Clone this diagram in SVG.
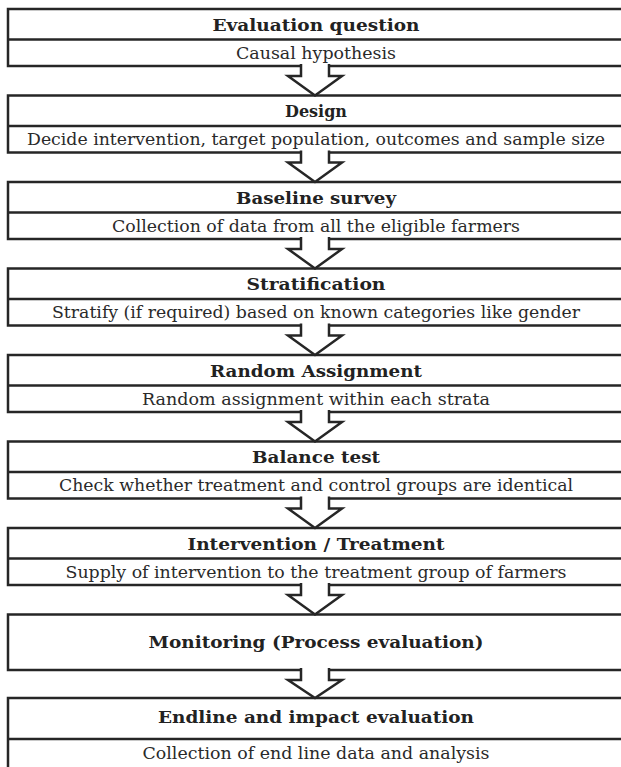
<svg xmlns="http://www.w3.org/2000/svg" width="621" height="767" viewBox="0 0 621 767">
<style>
.box{fill:#fff;stroke:#262626;stroke-width:2.5}
.div{stroke:#262626;stroke-width:2.5}
.h{font-family:"DejaVu Serif","Liberation Serif",serif;font-weight:bold;font-size:17px;fill:#222;text-anchor:middle}
.s{font-family:"DejaVu Serif","Liberation Serif",serif;font-size:17px;fill:#2a2a2a;text-anchor:middle}
.arr{fill:#fff;stroke:#262626;stroke-width:2.5;stroke-linejoin:miter}
</style>
<g id="n1">
<rect class="box" x="8" y="9" width="620" height="57"/>
<line class="div" x1="8" y1="39.5" x2="628" y2="39.5"/>
<text class="h" x="316" y="30.5" textLength="207" lengthAdjust="spacingAndGlyphs">Evaluation question</text>
<text class="s" x="316" y="58.5" textLength="160" lengthAdjust="spacingAndGlyphs">Causal hypothesis</text>
</g>
<g id="n2">
<rect class="box" x="8" y="95.5" width="620" height="57"/>
<line class="div" x1="8" y1="126" x2="628" y2="126"/>
<text class="h" x="316" y="117" textLength="62" lengthAdjust="spacingAndGlyphs">Design</text>
<text class="s" x="316" y="145" textLength="578" lengthAdjust="spacingAndGlyphs">Decide intervention, target population, outcomes and sample size</text>
</g>
<g id="n3">
<rect class="box" x="8" y="182" width="620" height="57"/>
<line class="div" x1="8" y1="212.5" x2="628" y2="212.5"/>
<text class="h" x="316" y="203.5" textLength="160" lengthAdjust="spacingAndGlyphs">Baseline survey</text>
<text class="s" x="316" y="231.5" textLength="408" lengthAdjust="spacingAndGlyphs">Collection of data from all the eligible farmers</text>
</g>
<g id="n4">
<rect class="box" x="8" y="268.5" width="620" height="57"/>
<line class="div" x1="8" y1="299" x2="628" y2="299"/>
<text class="h" x="316" y="290" textLength="139" lengthAdjust="spacingAndGlyphs">Stratification</text>
<text class="s" x="316" y="318" textLength="528" lengthAdjust="spacingAndGlyphs">Stratify (if required) based on known categories like gender</text>
</g>
<g id="n5">
<rect class="box" x="8" y="355" width="620" height="57"/>
<line class="div" x1="8" y1="385.5" x2="628" y2="385.5"/>
<text class="h" x="316" y="376.5" textLength="212" lengthAdjust="spacingAndGlyphs">Random Assignment</text>
<text class="s" x="316" y="404.5" textLength="348" lengthAdjust="spacingAndGlyphs">Random assignment within each strata</text>
</g>
<g id="n6">
<rect class="box" x="8" y="441.5" width="620" height="57"/>
<line class="div" x1="8" y1="472" x2="628" y2="472"/>
<text class="h" x="316" y="463" textLength="128" lengthAdjust="spacingAndGlyphs">Balance test</text>
<text class="s" x="316" y="491" textLength="514" lengthAdjust="spacingAndGlyphs">Check whether treatment and control groups are identical</text>
</g>
<g id="n7">
<rect class="box" x="8" y="528" width="620" height="57"/>
<line class="div" x1="8" y1="558.5" x2="628" y2="558.5"/>
<text class="h" x="316" y="549.5" textLength="257" lengthAdjust="spacingAndGlyphs">Intervention / Treatment</text>
<text class="s" x="316" y="577.5" textLength="501" lengthAdjust="spacingAndGlyphs">Supply of intervention to the treatment group of farmers</text>
</g>
<g id="n8">
<rect class="box" x="8" y="614.5" width="620" height="55.5"/>
<text class="h" x="316" y="647.5" textLength="335" lengthAdjust="spacingAndGlyphs">Monitoring (Process evaluation)</text>
</g>
<g id="n9">
<rect class="box" x="8" y="698" width="620" height="90"/>
<line class="div" x1="8" y1="739" x2="628" y2="739"/>
<text class="h" x="316" y="723" textLength="316" lengthAdjust="spacingAndGlyphs">Endline and impact evaluation</text>
<text class="s" x="316" y="758.5" textLength="347" lengthAdjust="spacingAndGlyphs">Collection of end line data and analysis</text>
</g>
<g id="connectors">
<path class="arr" d="M301,64 V76 H288 L315,95.5 L342,76 H329 V64"/>
<path class="arr" d="M301,150.5 V162.5 H288 L315,182 L342,162.5 H329 V150.5"/>
<path class="arr" d="M301,237 V249 H288 L315,268.5 L342,249 H329 V237"/>
<path class="arr" d="M301,323.5 V335.5 H288 L315,355 L342,335.5 H329 V323.5"/>
<path class="arr" d="M301,410 V422 H288 L315,441.5 L342,422 H329 V410"/>
<path class="arr" d="M301,496.5 V508.5 H288 L315,528 L342,508.5 H329 V496.5"/>
<path class="arr" d="M301,583 V595 H288 L315,614.5 L342,595 H329 V583"/>
<path class="arr" d="M301,668 V680 H288 L315,698 L342,680 H329 V668"/>
</g>
</svg>
